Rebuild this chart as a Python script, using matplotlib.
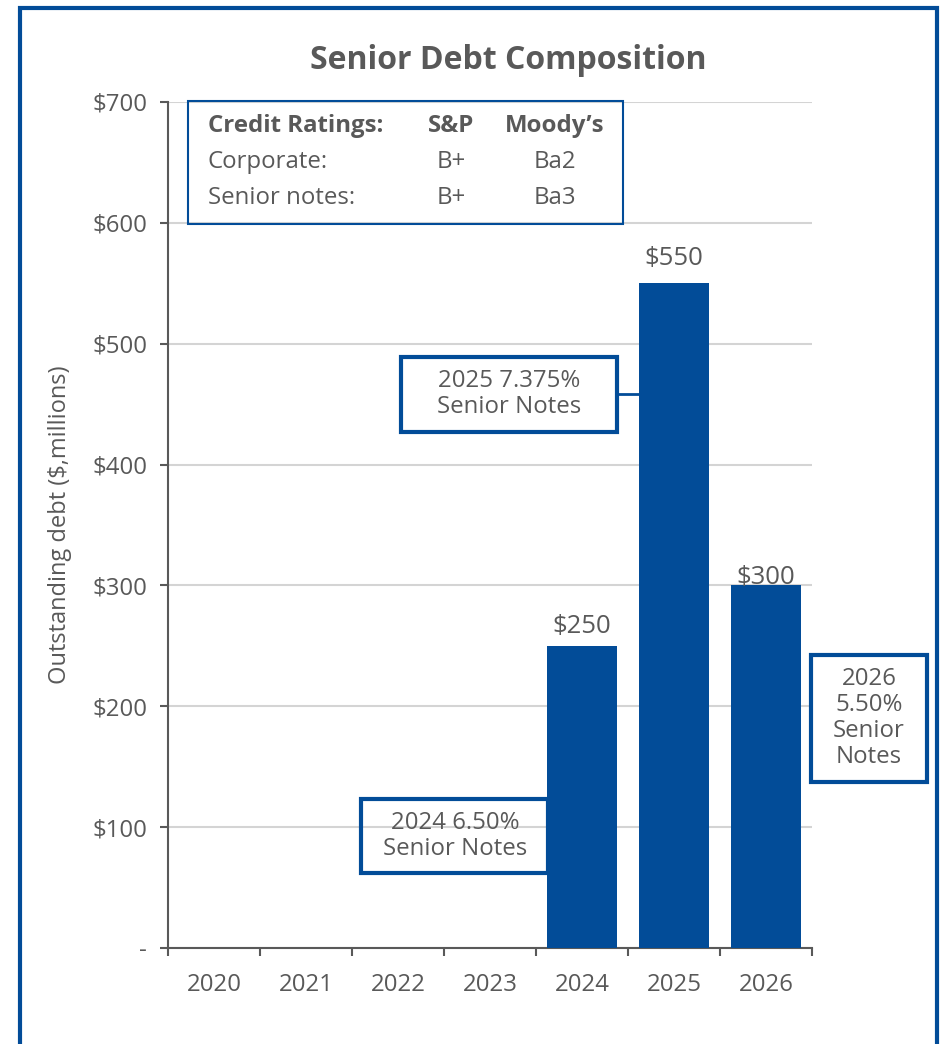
import numpy as np
import matplotlib
matplotlib.use("Agg")
import matplotlib.pyplot as plt
from matplotlib.patches import Rectangle

plt.rcParams["font.family"] = ["Open Sans", "DejaVu Sans"]

# data
years = ["2020", "2021", "2022", "2023", "2024", "2025", "2026"]
debt = [0, 0, 0, 0, 250, 550, 300]
notes = ["", "", "", "", "2024 6.50%\nSenior Notes", "2025 7.375%\nSenior Notes", "2026\n5.50%\nSenior\nNotes"]
label_offsets = [0, 0, 0, 0, 5, 8.5, -3]
rating_rows = ["Corporate:", "Senior notes:"]
sp_ratings = ["B+", "B+"]
moodys_ratings = ["Ba2", "Ba3"]
y_ticks = [0, 100, 200, 300, 400, 500, 600, 700]
y_labels = ["-", "$100", "$200", "$300", "$400", "$500", "$600", "$700"]

blue = "#024C98"
grey = "#595959"
fs = 17.3

fig = plt.figure(figsize=(9.4, 10.44), dpi=100)
ax = fig.add_axes([0.1787, 0.092, 0.6851, 0.8103])

x = np.arange(len(years))
ax.bar(x, debt, width=0.76, color=blue, zorder=3)

# value labels above the bars
for xi, v, off in zip(x, debt, label_offsets):
    if v > 0:
        ax.annotate("$" + str(v), (xi, v), xytext=(0, off), textcoords="offset points",
                    ha="center", va="bottom", fontsize=18.5, color=grey, zorder=4)

ax.set_xlim(-0.5, 6.5)
ax.set_ylim(0, 700)
ax.set_xticks(np.arange(-0.5, 7, 1))
ax.set_xticklabels([])
ax.set_xticks(x, minor=True)
ax.set_xticklabels(years, minor=True)
ax.tick_params(axis="x", which="major", length=6, width=1.5, color=grey)
ax.tick_params(axis="x", which="minor", length=0, pad=18, labelsize=fs, labelcolor=grey)
ax.set_yticks(y_ticks)
ax.set_yticklabels(y_labels)
ax.tick_params(axis="y", length=6, width=1.5, color=grey, pad=9, labelsize=fs, labelcolor=grey)

ax.grid(axis="y", color="#D4D4D4", linewidth=1.5, zorder=0)
ax.set_axisbelow(True)
for side in ["top", "right"]:
    ax.spines[side].set_visible(False)
for side in ["left", "bottom"]:
    ax.spines[side].set_color(grey)
    ax.spines[side].set_linewidth(1.5)

ax.set_ylabel("Outstanding debt ($,millions)", fontsize=17, color=grey)
ax.yaxis.set_label_coords(-0.149, 0.5)

fig.text(0.541, 0.942, "Senior Debt Composition", ha="center", va="center",
         fontsize=23, fontweight="bold", color=grey)

# credit ratings table
ax.add_patch(Rectangle((-0.283, 599), 4.729, 101.8, fill=False, edgecolor=blue,
                       linewidth=1.5, zorder=4, clip_on=False))
ax.text(-0.065, 680, "Credit Ratings:", ha="left", va="center", fontsize=fs,
        fontweight="bold", color=grey)
ax.text(2.576, 680, "S&P", ha="center", va="center", fontsize=fs, fontweight="bold", color=grey)
ax.text(3.707, 680, "Moody\u2019s", ha="center", va="center", fontsize=fs,
        fontweight="bold", color=grey)
for yy, row, sp, md in zip([650.3, 620.6], rating_rows, sp_ratings, moodys_ratings):
    ax.text(-0.065, yy, row, ha="left", va="center", fontsize=fs, color=grey)
    ax.text(2.576, yy, sp, ha="center", va="center", fontsize=fs, color=grey)
    ax.text(3.707, yy, md, ha="center", va="center", fontsize=fs, color=grey)

# callout boxes for each note issue
boxes = {4: (1.598, 62.1, 2.03, 61.2, 2.62, 92.7),
         5: (2.033, 426.9, 2.347, 62.1, 3.207, 458.4),
         6: (6.489, 137.3, 1.261, 105.1, 7.12, 190.3)}
for i, (bx, by, bw, bh, tx, ty) in boxes.items():
    ax.add_patch(Rectangle((bx, by), bw, bh, fill=False, edgecolor=blue,
                           linewidth=3, zorder=2, clip_on=False))
    ax.text(tx, ty, notes[i], ha="center", va="center", fontsize=fs, color=grey,
            linespacing=1.12, zorder=1, clip_on=False)
ax.plot([4.38, 5 - 0.38], [458.4, 458.4], color=blue, linewidth=2, zorder=2)

# outer frame
fig.patches.append(Rectangle((20 / 940, -0.05), 917 / 940, 1.05 - 8 / 1044, fill=False,
                             edgecolor=blue, linewidth=3, transform=fig.transFigure))

fig.savefig("out.png", dpi=100)
